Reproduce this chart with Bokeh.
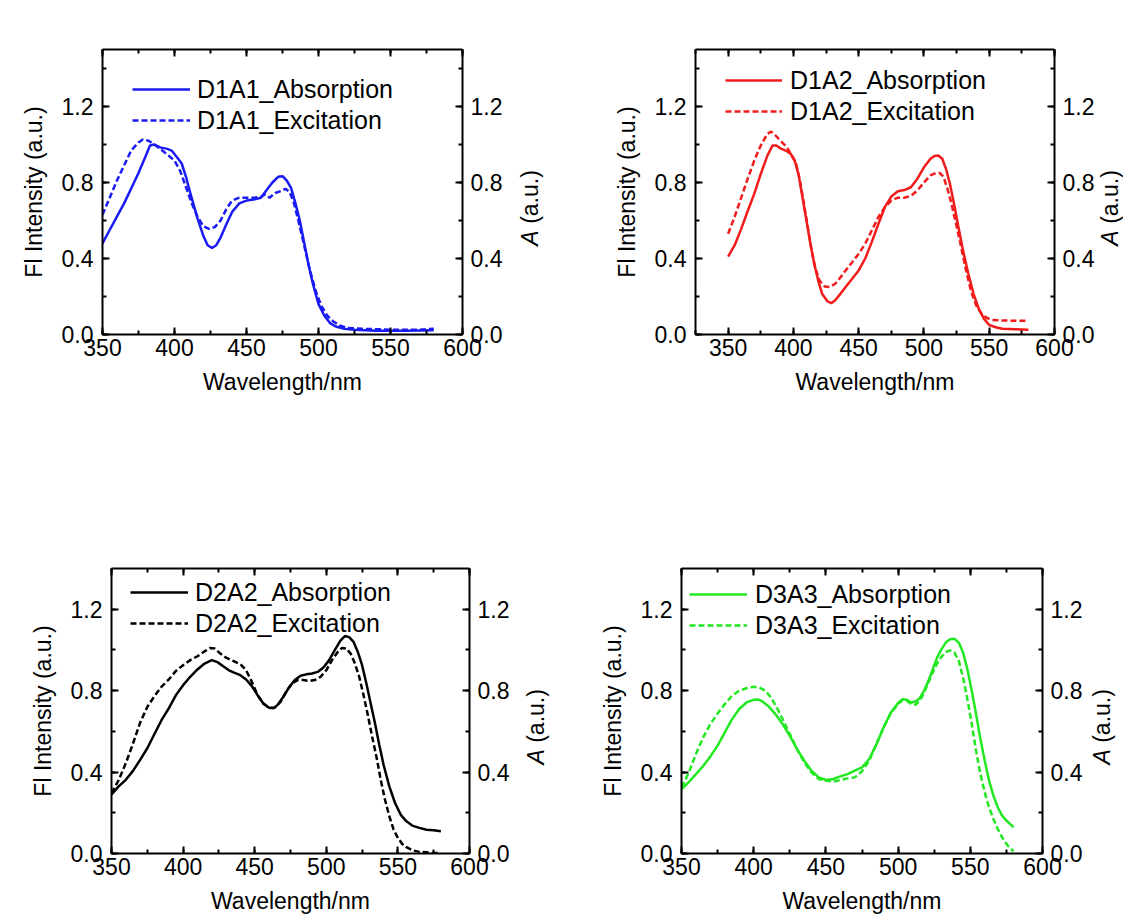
from math import pi

from bokeh.plotting import figure
from bokeh.layouts import column, row
from bokeh.core.properties import value
from bokeh.models import (Range1d, LinearAxis, SingleIntervalTicker, PrintfTickFormatter,
                          CustomJSTickFormatter, Legend, LegendItem)
from bokeh.embed import file_html
from bokeh.resources import INLINE

# ---------------- spectra (wavelength in nm, normalised intensity) ----------------
d1a1_abs_wl = [350, 355, 360, 365, 370, 375, 380, 383, 386, 390, 395, 398, 402, 405, 408, 410,
               413, 416, 420, 423, 426, 429, 432, 436, 440, 445, 450, 455, 460, 464, 468, 472,
               475, 478, 481, 484, 487, 490, 493, 496, 500, 504, 508, 512, 518, 525, 540, 560, 580]
d1a1_abs = [0.48, 0.55, 0.62, 0.69, 0.77, 0.85, 0.94, 0.995, 1.0, 0.985, 0.977, 0.968, 0.93, 0.90,
            0.83, 0.77, 0.69, 0.61, 0.52, 0.47, 0.455, 0.47, 0.51, 0.58, 0.645, 0.69, 0.705, 0.71,
            0.72, 0.76, 0.80, 0.83, 0.833, 0.81, 0.77, 0.69, 0.60, 0.486, 0.37, 0.27, 0.16, 0.10,
            0.06, 0.042, 0.03, 0.025, 0.02, 0.02, 0.022]
d1a1_exc_wl = [350, 355, 360, 365, 370, 375, 378, 382, 386, 390, 395, 400, 404, 408, 412, 416,
               420, 424, 428, 432, 436, 440, 445, 450, 455, 460, 463, 466, 470, 474, 477, 480,
               483, 486, 490, 494, 498, 502, 506, 510, 515, 520, 530, 540, 550, 560, 570, 580]
d1a1_exc = [0.63, 0.72, 0.81, 0.89, 0.97, 1.01, 1.026, 1.02, 1.0, 0.977, 0.947, 0.915, 0.86, 0.775,
            0.69, 0.62, 0.57, 0.556, 0.565, 0.60, 0.66, 0.705, 0.72, 0.72, 0.72, 0.725, 0.737, 0.72,
            0.745, 0.755, 0.767, 0.75, 0.69, 0.60, 0.47, 0.34, 0.23, 0.15, 0.10, 0.07, 0.047, 0.035,
            0.03, 0.028, 0.025, 0.025, 0.025, 0.03]

d1a2_abs_wl = [350, 355, 360, 365, 370, 375, 380, 384, 387, 390, 395, 398, 401, 404, 407, 410,
               413, 416, 419, 422, 426, 429, 432, 436, 440, 445, 450, 455, 460, 465, 470, 475,
               480, 485, 490, 495, 500, 505, 508, 511, 514, 517, 520, 523, 526, 530, 534, 538,
               542, 546, 550, 555, 560, 570, 580]
d1a2_abs = [0.41, 0.47, 0.556, 0.65, 0.74, 0.845, 0.94, 0.995, 0.995, 0.98, 0.965, 0.95, 0.915,
            0.84, 0.72, 0.60, 0.477, 0.37, 0.284, 0.214, 0.175, 0.165, 0.18, 0.214, 0.25, 0.293,
            0.337, 0.40, 0.486, 0.58, 0.67, 0.726, 0.754, 0.76, 0.775, 0.82, 0.88, 0.925, 0.94,
            0.942, 0.925, 0.87, 0.79, 0.69, 0.58, 0.44, 0.32, 0.214, 0.135, 0.082, 0.05, 0.038,
            0.03, 0.028, 0.025]
d1a2_exc_wl = [350, 355, 360, 365, 370, 375, 380, 383, 386, 390, 395, 399, 402, 405, 408, 411,
               414, 417, 420, 424, 428, 432, 436, 440, 445, 450, 455, 460, 465, 470, 475, 480,
               485, 490, 495, 500, 505, 509, 512, 515, 518, 521, 524, 528, 532, 536, 540, 544,
               548, 552, 560, 570, 580]
d1a2_exc = [0.53, 0.62, 0.72, 0.82, 0.915, 0.995, 1.056, 1.068, 1.05, 1.02, 0.986, 0.94, 0.90,
            0.81, 0.69, 0.565, 0.44, 0.345, 0.284, 0.253, 0.25, 0.267, 0.30, 0.337, 0.38, 0.425,
            0.477, 0.547, 0.617, 0.67, 0.705, 0.72, 0.72, 0.73, 0.758, 0.80, 0.837, 0.85, 0.85,
            0.83, 0.767, 0.69, 0.60, 0.477, 0.345, 0.23, 0.153, 0.11, 0.088, 0.077, 0.074, 0.072,
            0.072]

d2a2_abs_wl = [350, 355, 360, 365, 370, 375, 380, 385, 390, 395, 400, 405, 410, 415, 420, 424,
               428, 432, 436, 440, 444, 448, 452, 456, 460, 463, 466, 470, 474, 478, 482, 486,
               490, 494, 498, 502, 506, 510, 513, 516, 519, 522, 525, 528, 531, 534, 537, 540,
               544, 548, 552, 556, 560, 565, 570, 575, 580]
d2a2_abs = [0.29, 0.33, 0.362, 0.406, 0.46, 0.517, 0.587, 0.656, 0.713, 0.778, 0.827, 0.868, 0.904,
            0.933, 0.95, 0.94, 0.92, 0.90, 0.887, 0.876, 0.855, 0.822, 0.778, 0.737, 0.716, 0.713,
            0.73, 0.77, 0.816, 0.852, 0.873, 0.88, 0.884, 0.892, 0.914, 0.95, 1.0, 1.047, 1.068,
            1.063, 1.04, 0.99, 0.925, 0.835, 0.737, 0.64, 0.533, 0.436, 0.33, 0.248, 0.19, 0.158,
            0.137, 0.126, 0.117, 0.114, 0.109]
d2a2_exc_wl = [350, 355, 360, 365, 370, 375, 380, 385, 390, 395, 400, 405, 410, 415, 419, 422,
               426, 430, 435, 440, 444, 448, 452, 456, 460, 464, 468, 472, 476, 480, 484, 488,
               492, 496, 500, 504, 508, 511, 514, 517, 520, 523, 526, 529, 532, 535, 538, 541,
               544, 547, 550, 553, 556, 560, 565, 570, 575, 580]
d2a2_exc = [0.297, 0.36, 0.444, 0.54, 0.643, 0.72, 0.773, 0.82, 0.855, 0.897, 0.925, 0.95, 0.969,
            0.993, 1.01, 1.007, 0.982, 0.962, 0.946, 0.93, 0.90, 0.843, 0.778, 0.737, 0.716, 0.716,
            0.745, 0.795, 0.835, 0.852, 0.852, 0.848, 0.852, 0.868, 0.90, 0.95, 0.99, 1.01, 1.007,
            0.982, 0.933, 0.868, 0.778, 0.68, 0.574, 0.476, 0.362, 0.264, 0.183, 0.117, 0.077,
            0.047, 0.031, 0.016, 0.008, 0.006, 0.003, 0.002]

d3a3_abs_wl = [350, 355, 360, 365, 370, 375, 380, 385, 390, 395, 400, 403, 406, 410, 415, 420,
               425, 430, 435, 440, 445, 450, 455, 460, 465, 470, 475, 480, 485, 490, 495, 500,
               503, 506, 509, 512, 515, 518, 521, 524, 527, 530, 533, 536, 539, 542, 545, 548,
               551, 554, 557, 560, 563, 566, 569, 572, 575, 578, 580]
d3a3_abs = [0.317, 0.35, 0.39, 0.43, 0.477, 0.53, 0.595, 0.66, 0.71, 0.742, 0.755, 0.757, 0.747,
            0.725, 0.685, 0.636, 0.578, 0.513, 0.456, 0.407, 0.374, 0.361, 0.366, 0.379, 0.39,
            0.407, 0.423, 0.464, 0.537, 0.62, 0.693, 0.739, 0.758, 0.755, 0.742, 0.747, 0.763,
            0.80, 0.848, 0.905, 0.962, 1.003, 1.036, 1.052, 1.055, 1.036, 0.987, 0.905, 0.80,
            0.685, 0.562, 0.456, 0.358, 0.284, 0.227, 0.186, 0.162, 0.142, 0.129]
d3a3_exc_wl = [350, 353, 356, 360, 365, 370, 375, 380, 385, 390, 395, 400, 404, 408, 412, 416,
               420, 425, 430, 435, 440, 445, 450, 455, 460, 465, 470, 475, 480, 485, 490, 495,
               500, 503, 506, 509, 512, 515, 518, 521, 524, 527, 530, 533, 536, 539, 542, 545,
               548, 551, 554, 557, 560, 563, 566, 569, 572, 575, 578, 580]
d3a3_exc = [0.325, 0.366, 0.415, 0.489, 0.57, 0.636, 0.688, 0.734, 0.775, 0.80, 0.812, 0.819,
            0.815, 0.80, 0.766, 0.717, 0.66, 0.587, 0.513, 0.448, 0.399, 0.366, 0.358, 0.353,
            0.361, 0.369, 0.374, 0.404, 0.456, 0.537, 0.62, 0.69, 0.734, 0.753, 0.75, 0.734, 0.73,
            0.75, 0.79, 0.84, 0.889, 0.933, 0.966, 0.99, 0.998, 0.987, 0.946, 0.864, 0.758, 0.636,
            0.505, 0.39, 0.30, 0.227, 0.17, 0.121, 0.08, 0.047, 0.023, 0.011]

sample_names = ["D1A1", "D1A2", "D2A2", "D3A3"]
sample_colors = ["#1a1af2", "#f01c1c", "#000000", "#22e822"]

x_label = "Wavelength/nm"
y_label_left = "Fl Intensity (a.u.)"
y_label_right_symbol = "A"
y_label_right_unit = "(a.u.)"

FONT = "Liberation Sans"

# per-panel layout: frame size, borders (l, r, t, b), x start, y max, legend placement,
# and the strip that carries the right-hand axis title (width, title centre x)
layouts = [
    dict(frame=(360, 285), borders=(102, 45, 49, 126), x_start=350, y_max=1.5,
         legend=(30, 199), glyph_w=58, standoff=7, strip=(56, 22)),
    dict(frame=(361, 285), borders=(132, 41, 49, 126), x_start=325, y_max=1.5,
         legend=(30, 208), glyph_w=57, standoff=8, strip=(26, 12)),
    dict(frame=(358, 286), borders=(111, 45, 108, 62), x_start=350, y_max=1.4,
         legend=(19, 215), glyph_w=58, standoff=7, strip=(56, 21)),
    dict(frame=(361, 286), borders=(111, 45, 108, 62), x_start=350, y_max=1.4,
         legend=(8, 213), glyph_w=58, standoff=8, strip=(36, 14)),
]

spectra = [
    (d1a1_abs_wl, d1a1_abs, d1a1_exc_wl, d1a1_exc),
    (d1a2_abs_wl, d1a2_abs, d1a2_exc_wl, d1a2_exc),
    (d2a2_abs_wl, d2a2_abs, d2a2_exc_wl, d2a2_exc),
    (d3a3_abs_wl, d3a3_abs, d3a3_exc_wl, d3a3_exc),
]


def style_axis(ax):
    ax.axis_line_width = 2
    ax.axis_line_color = "black"
    ax.major_tick_line_width = 2
    ax.minor_tick_line_width = 2
    ax.major_tick_line_color = "black"
    ax.minor_tick_line_color = "black"
    ax.major_tick_in = 7
    ax.major_tick_out = 0
    ax.minor_tick_in = 4
    ax.minor_tick_out = 0
    ax.major_label_text_font = FONT
    ax.major_label_text_font_size = "23px"
    ax.major_label_text_color = "black"
    ax.axis_label_text_font = FONT
    ax.axis_label_text_font_size = "23px"
    ax.axis_label_text_font_style = "normal"
    ax.axis_label_text_color = "black"


def build_panel(name, color, data, cfg):
    fw, fh = cfg["frame"]
    bl, br, bt, bb = cfg["borders"]
    p = figure(width=bl + fw + br, height=bt + fh + bb,
               x_range=Range1d(cfg["x_start"], 600), y_range=Range1d(0, cfg["y_max"]),
               x_axis_type=None, y_axis_type=None,
               output_backend="svg", toolbar_location=None,
               min_border_left=bl, min_border_right=br,
               min_border_top=bt, min_border_bottom=bb)
    p.grid.visible = False
    p.outline_line_color = None
    p.background_fill_color = "white"
    p.border_fill_color = "white"

    def xt():
        return SingleIntervalTicker(interval=50, num_minor_ticks=2)

    def yt():
        return SingleIntervalTicker(interval=0.4, num_minor_ticks=2)

    below = LinearAxis(ticker=xt(), axis_label=x_label,
                       major_label_standoff=4, axis_label_standoff=10)
    above = LinearAxis(ticker=xt(), formatter=CustomJSTickFormatter(code="return ''"),
                       major_label_standoff=0)
    left = LinearAxis(ticker=yt(), formatter=PrintfTickFormatter(format="%.1f"),
                      axis_label=y_label_left, axis_label_standoff=12, major_label_standoff=9)
    right = LinearAxis(ticker=yt(), formatter=PrintfTickFormatter(format="%.1f"),
                       major_label_standoff=8)
    for ax in (below, above, left, right):
        style_axis(ax)
    p.add_layout(below, "below")
    p.add_layout(above, "above")
    p.add_layout(left, "left")
    p.add_layout(right, "right")

    abs_wl, abs_val, exc_wl, exc_val = data
    r_abs = p.line(abs_wl, abs_val, line_color=color, line_width=2.5)
    r_exc = p.line(exc_wl, exc_val, line_color=color, line_width=2.5, line_dash="6 3")

    legend = Legend(items=[LegendItem(label=f"{name}_Absorption", renderers=[r_abs]),
                           LegendItem(label=f"{name}_Excitation", renderers=[r_exc])],
                    location=cfg["legend"], padding=0, spacing=1, margin=0,
                    glyph_width=cfg["glyph_w"], glyph_height=30, label_height=30,
                    label_standoff=cfg["standoff"],
                    label_text_font=FONT, label_text_font_size="25px",
                    label_text_color="black",
                    border_line_color=None, background_fill_alpha=0)
    p.add_layout(legend)
    return p


def title_strip(cfg):
    """Narrow canvas to the right of a panel holding the rotated title 'A (a.u.)'.

    Its frame lines up with the neighbouring panel's frame, so the y range spans
    the frame height in pixels.
    """
    fw, fh = cfg["frame"]
    bl, br, bt, bb = cfg["borders"]
    sw, cx = cfg["strip"]
    sh = bt + fh + bb
    s = figure(width=sw, height=sh, x_range=Range1d(0, sw), y_range=Range1d(0, fh),
               x_axis_type=None, y_axis_type=None, output_backend="svg",
               toolbar_location=None, min_border=0)
    s.grid.visible = False
    s.outline_line_color = None
    s.background_fill_color = "white"
    s.border_fill_color = "white"
    # centre of the whole title sits a little below the middle of the frame
    cy = fh / 2 - 16
    s.text(x=[cx], y=[cy - 30], text=[y_label_right_symbol], angle=pi / 2,
           text_align="center", text_baseline="middle", text_color="black",
           text_font=value(FONT), text_font_size="23px", text_font_style="italic")
    s.text(x=[cx], y=[cy + 11], text=[y_label_right_unit], angle=pi / 2,
           text_align="center", text_baseline="middle", text_color="black",
           text_font=value(FONT), text_font_size="23px", text_font_style="normal")
    return s


panels = [build_panel(n, c, d, cfg)
          for n, c, d, cfg in zip(sample_names, sample_colors, spectra, layouts)]
strips = [title_strip(cfg) for cfg in layouts]

page = column(
    row(panels[0], strips[0], panels[1], strips[1], spacing=0),
    row(panels[2], strips[2], panels[3], strips[3], spacing=0),
    spacing=0,
)

with open("out.html", "w") as f:
    f.write(file_html(page, INLINE))
